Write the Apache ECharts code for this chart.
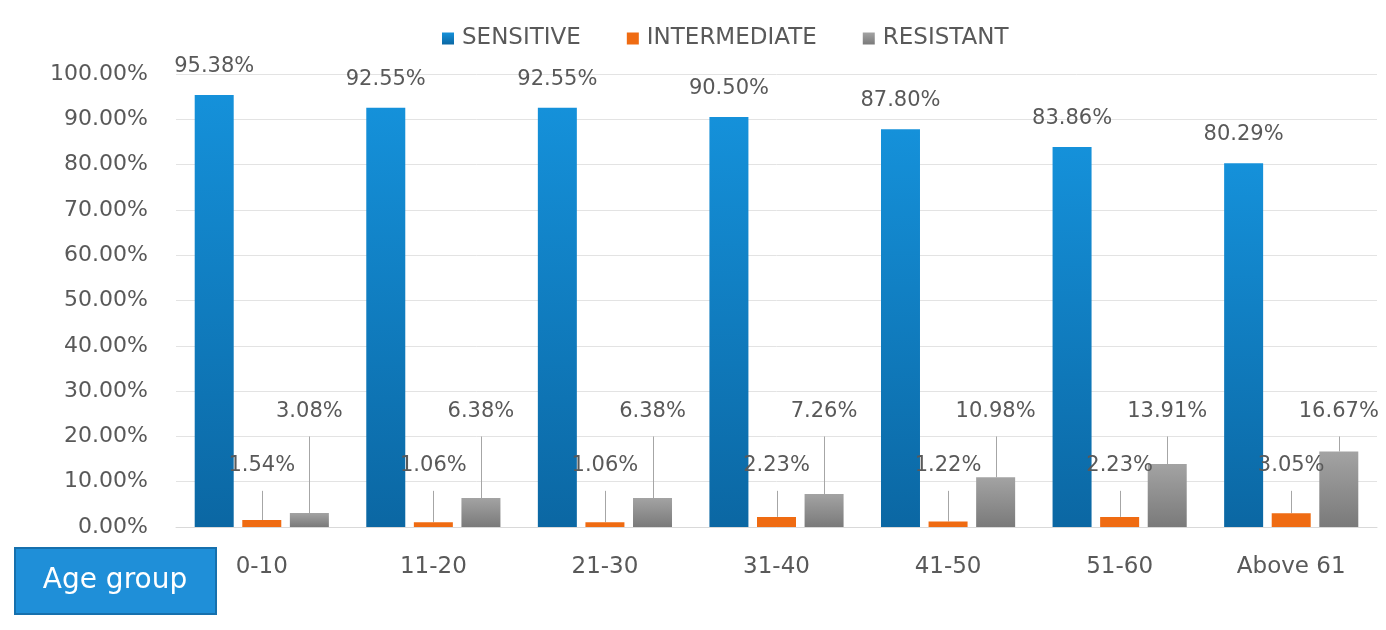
<!DOCTYPE html>
<html>
<head>
<meta charset="utf-8">
<script src="https://cdn.jsdelivr.net/npm/echarts@6/dist/echarts.min.js"></script>
<style>html,body{margin:0;padding:0;background:#fff;}#chart{width:1386px;height:630px;}</style>
</head>
<body>
<div id="chart"></div>
<script>
var categories = ['0-10', '11-20', '21-30', '31-40', '41-50', '51-60', 'Above 61'];
var sensitive = [95.38, 92.55, 92.55, 90.50, 87.80, 83.86, 80.29];
var intermediate = [1.54, 1.06, 1.06, 2.23, 1.22, 2.23, 3.05];
var resistant = [3.08, 6.38, 6.38, 7.26, 10.98, 13.91, 16.67];
var yTicks = [0, 10, 20, 30, 40, 50, 60, 70, 80, 90, 100];

var FONT = 'DejaVu Sans';
var TXT = '#595959';
var BAR_W = 39;
var BAR_GAP = 0.22;
var ORANGE_LEVEL = 13.5;   // value level where the intermediate labels sit
var GRAY_LEVEL = 25.5;     // value level where the resistant labels sit

function pct(p) { return p.value.toFixed(2) + '%'; }

// move a label so its text centre sits at a given value level on the y scale
function levelLayout(level) {
  return function (params) {
    var r = params.rect;
    var v = [sensitive, intermediate, resistant][params.seriesIndex][params.dataIndex];
    var pxPerUnit = r.height / v;
    var zeroY = r.y + r.height;
    var targetCenter = zeroY - level * pxPerUnit;
    var lr = params.labelRect;
    return { dy: targetCenter - (lr.y + lr.height / 2) };
  };
}

// leader-line data: [categoryIndex, barValue, barSlot(-1,0,1), labelLevel]
var leaderData = [];
intermediate.forEach(function (v, i) { leaderData.push([i, v, 0, ORANGE_LEVEL]); });
resistant.forEach(function (v, i) { leaderData.push([i, v, 1, GRAY_LEVEL]); });

function renderLeader(params, api) {
  var i = api.value(0), v = api.value(1), slot = api.value(2), level = api.value(3);
  var top = api.coord([i, v]);
  var lab = api.coord([i, level]);
  var x = Math.round(top[0] + slot * BAR_W * (1 + BAR_GAP)) + 0.5;
  return {
    type: 'line',
    shape: { x1: x, y1: lab[1] + 25, x2: x, y2: top[1] },
    style: { stroke: '#a6a6a6', lineWidth: 1 }
  };
}

var chart = echarts.init(document.getElementById('chart'));
chart.setOption({
  animation: false,
  backgroundColor: '#ffffff',
  textStyle: { fontFamily: FONT },
  legend: {
    left: 437, top: 22,
    itemWidth: 12, itemHeight: 12, itemGap: 46,
    icon: 'rect',
    textStyle: { fontFamily: FONT, fontSize: 23, color: TXT, padding: [0, 0, 0, 3] },
    data: ['SENSITIVE', 'INTERMEDIATE', 'RESISTANT']
  },
  grid: { left: 176, right: 9, top: 74, bottom: 103, containLabel: false },
  xAxis: {
    type: 'category',
    data: categories,
    axisTick: { show: false },
    axisLine: { lineStyle: { color: '#d9d9d9', width: 1 } },
    axisLabel: { fontFamily: FONT, fontSize: 23, color: TXT, margin: 29 }
  },
  yAxis: {
    type: 'value',
    min: yTicks[0], max: yTicks[yTicks.length - 1], interval: 10,
    axisLine: { show: false },
    axisTick: { show: false },
    splitLine: { lineStyle: { color: '#e3e3e3', width: 1 } },
    axisLabel: { fontFamily: FONT, fontSize: 22, color: TXT, margin: 28,
      formatter: function (v) { return v.toFixed(2) + '%'; } }
  },
  series: [
    {
      name: 'SENSITIVE', type: 'bar', data: sensitive,
      barWidth: BAR_W, barGap: (BAR_GAP * 100) + '%',
      itemStyle: { color: new echarts.graphic.LinearGradient(0, 0, 0, 1, [
        { offset: 0, color: '#1591da' }, { offset: 1, color: '#0b67a3' }]) },
      label: { show: true, position: 'top', distance: 18, formatter: pct,
        fontFamily: FONT, fontSize: 21, color: TXT }
    },
    {
      name: 'INTERMEDIATE', type: 'bar', data: intermediate,
      barWidth: BAR_W, barGap: (BAR_GAP * 100) + '%',
      itemStyle: { color: '#ef6b12' },
      label: { show: true, position: 'top', formatter: pct,
        fontFamily: FONT, fontSize: 21, color: TXT },
      labelLayout: levelLayout(ORANGE_LEVEL)
    },
    {
      name: 'RESISTANT', type: 'bar', data: resistant,
      barWidth: BAR_W, barGap: (BAR_GAP * 100) + '%',
      itemStyle: { color: new echarts.graphic.LinearGradient(0, 0, 0, 1, [
        { offset: 0, color: '#a3a3a3' }, { offset: 1, color: '#7a7a7a' }]) },
      label: { show: true, position: 'top', formatter: pct,
        fontFamily: FONT, fontSize: 21, color: TXT },
      labelLayout: levelLayout(GRAY_LEVEL)
    },
    {
      name: 'leaders', type: 'custom', data: leaderData,
      renderItem: renderLeader, silent: true, z: 1,
      encode: { x: 0, y: 1 }
    }
  ],
  graphic: [
    {
      type: 'rect', left: 14, top: 547,
      shape: { width: 201, height: 66 },
      style: { fill: '#1f8fd8', stroke: '#1670ad', lineWidth: 2 }
    },
    {
      type: 'text', x: 115, y: 581,
      style: { text: 'Age group', fill: '#ffffff', font: '28px "DejaVu Sans"',
        align: 'center', verticalAlign: 'middle' }
    }
  ]
});
</script>
</body>
</html>
